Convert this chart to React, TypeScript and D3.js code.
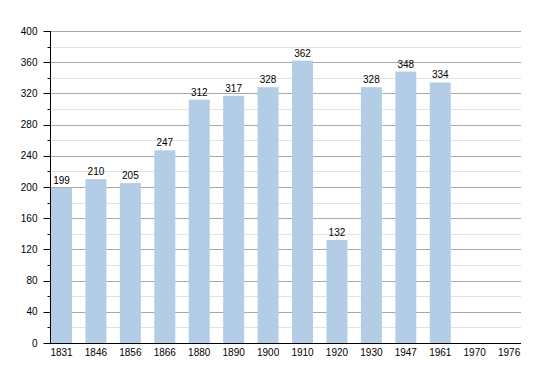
import React, { useEffect, useRef } from "react";
import * as d3 from "d3";

const years = ["1831", "1846", "1856", "1866", "1880", "1890", "1900", "1910", "1920", "1930", "1947", "1961", "1970", "1976"];
const population: (number | null)[] = [199, 210, 205, 247, 312, 317, 328, 362, 132, 328, 348, 334, null, null];
const majorTicks = [0, 40, 80, 120, 160, 200, 240, 280, 320, 360, 400];
const minorTicks = [20, 60, 100, 140, 180, 220, 260, 300, 340, 380];

export default function App() {
  const ref = useRef<SVGSVGElement>(null);

  useEffect(() => {
    const svg = d3.select(ref.current);
    svg.selectAll("*").remove();

    const width = 550;
    const height = 373;
    const left = 50;
    const right = 521;
    const top = 31;
    const bottom = 343;

    svg.attr("width", width).attr("height", height);

    const x = d3.scaleBand()
      .domain(years)
      .range([left + 1, right])
      .paddingInner(0.39)
      .paddingOuter(0.02)
      .align(0);

    const y = d3.scaleLinear().domain([0, 400]).range([bottom, top]);

    const font = "'Liberation Sans', Arial, sans-serif";

    // grid
    svg.append("g")
      .selectAll("line")
      .data(minorTicks)
      .enter()
      .append("line")
      .attr("x1", left).attr("x2", right)
      .attr("y1", d => Math.round(y(d)) + 0.5).attr("y2", d => Math.round(y(d)) + 0.5)
      .attr("stroke", "#e2e2e2");

    svg.append("g")
      .selectAll("line")
      .data(majorTicks.filter(d => d > 0))
      .enter()
      .append("line")
      .attr("x1", left).attr("x2", right)
      .attr("y1", d => Math.round(y(d)) + 0.5).attr("y2", d => Math.round(y(d)) + 0.5)
      .attr("stroke", "#a8a8a8");

    // bars
    const data = years.map((yr, i) => ({ yr, v: population[i] })).filter(d => d.v !== null) as { yr: string; v: number }[];

    svg.append("g")
      .selectAll("rect")
      .data(data)
      .enter()
      .append("rect")
      .attr("x", d => x(d.yr)!)
      .attr("y", d => y(d.v))
      .attr("width", x.bandwidth())
      .attr("height", d => bottom - y(d.v))
      .attr("fill", "#b3cde6");

    svg.append("g")
      .selectAll("text")
      .data(data)
      .enter()
      .append("text")
      .attr("x", d => x(d.yr)! + x.bandwidth() / 2)
      .attr("y", d => y(d.v) - 4)
      .attr("text-anchor", "middle")
      .style("font-family", font)
      .style("font-size", "10px")
      .text(d => d.v);

    // y axis
    const yAxis = svg.append("g").attr("transform", `translate(${left + 0.5},0)`);
    yAxis.append("line")
      .attr("y1", top).attr("y2", bottom + 0.5)
      .attr("stroke", "#000");
    yAxis.selectAll(".major")
      .data(majorTicks)
      .enter()
      .append("line")
      .attr("x1", -7).attr("x2", 0)
      .attr("y1", d => Math.round(y(d)) + 0.5).attr("y2", d => Math.round(y(d)) + 0.5)
      .attr("stroke", "#000");
    yAxis.selectAll(".minor")
      .data(minorTicks)
      .enter()
      .append("line")
      .attr("x1", -3).attr("x2", 0)
      .attr("y1", d => Math.round(y(d)) + 0.5).attr("y2", d => Math.round(y(d)) + 0.5)
      .attr("stroke", "#000");
    yAxis.selectAll("text")
      .data(majorTicks)
      .enter()
      .append("text")
      .attr("x", -13)
      .attr("y", d => y(d))
      .attr("dy", "0.35em")
      .attr("text-anchor", "end")
      .style("font-family", font)
      .style("font-size", "10px")
      .text(d => d);

    // x axis
    svg.append("line")
      .attr("x1", left).attr("x2", right)
      .attr("y1", bottom + 0.5).attr("y2", bottom + 0.5)
      .attr("stroke", "#000");

    svg.append("g")
      .selectAll("text")
      .data(years)
      .enter()
      .append("text")
      .attr("x", d => x(d)! + x.bandwidth() / 2)
      .attr("y", bottom + 13)
      .attr("text-anchor", "middle")
      .style("font-family", font)
      .style("font-size", "10px")
      .text(d => d);
  }, []);

  return <svg ref={ref} style={{ position: "absolute", left: 0, top: 0 }}></svg>;
}
